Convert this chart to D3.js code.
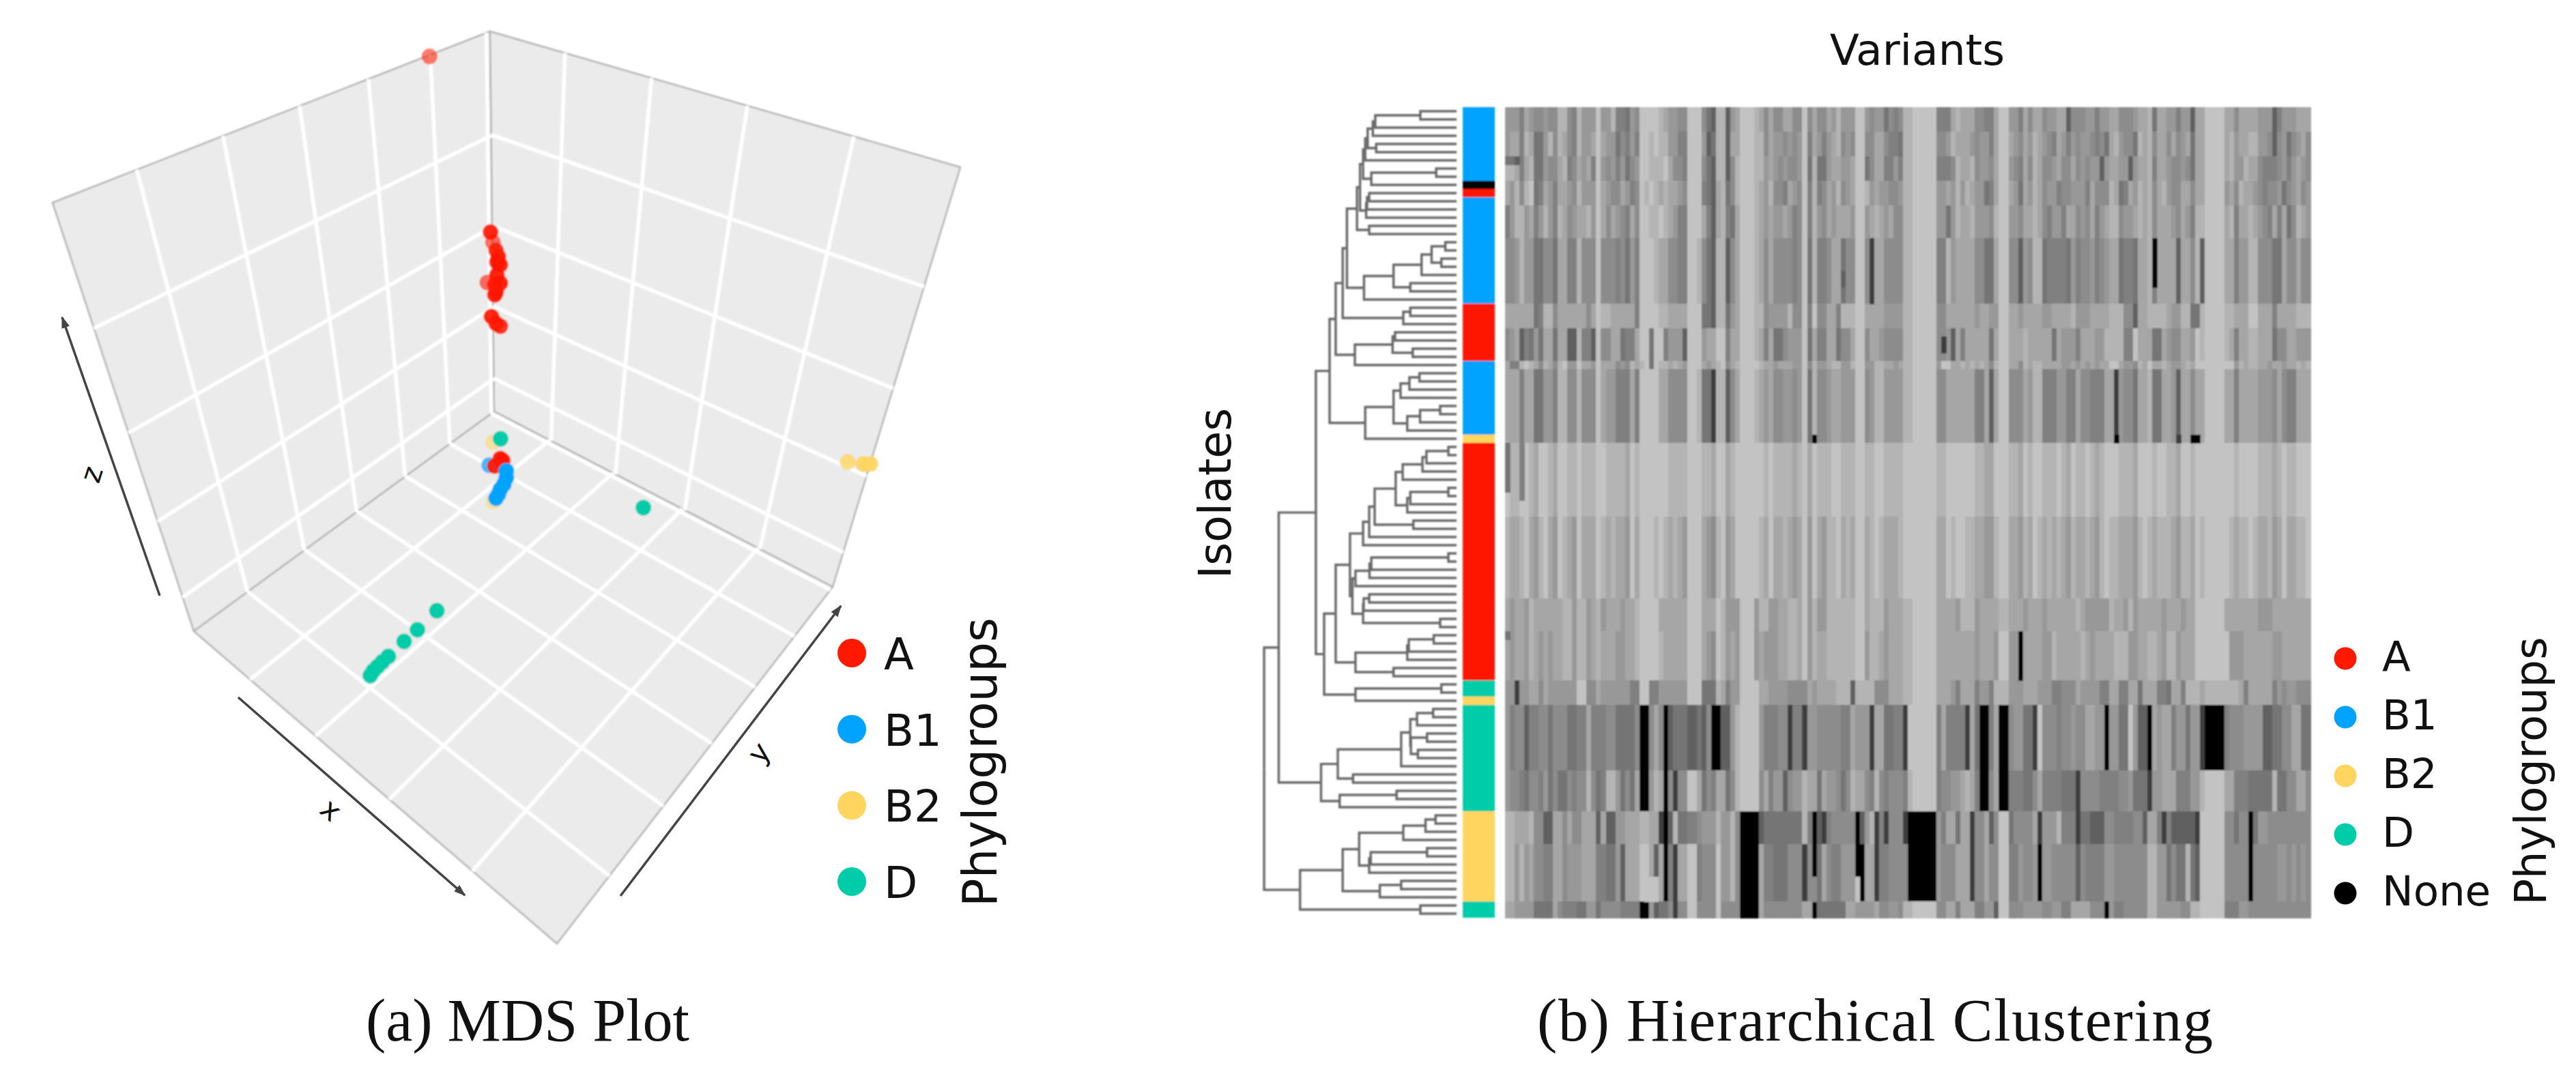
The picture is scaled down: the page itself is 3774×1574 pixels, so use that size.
<!DOCTYPE html>
<html>
<head>
<meta charset="utf-8">
<script src="https://cdn.jsdelivr.net/npm/d3@7"></script>
<style>
    body { margin: 0; background: #fff; }
    text { font-family: "DejaVu Sans", sans-serif; fill: #111; }
    .caption { font-family: "Liberation Serif", serif; font-size: 88px; }
</style>
</head>
<body>
<svg id="chart" width="3774" height="1574"></svg>
<script>
// ---- phylogroups ----
const groupNames = ['A', 'B1', 'B2', 'D', 'None'];
const groupColors = ['#ff1900', '#00a3ff', '#ffd45f', '#00ccaa', '#000000'];

// ---- (a) MDS plot (view plane 0-100) ----
const mdsGroup = ['B2', 'B2', 'A', 'A', 'A', 'A', 'A', 'A', 'A', 'A', 'A', 'A', 'A', 'A', 'A', 'A', 'A', 'A',
    'B1', 'A', 'A', 'A', 'B1', 'B1', 'B1', 'B1', 'B1', 'B1', 'D', 'D', 'B2', 'B2', 'B2',
    'D', 'D', 'D', 'D', 'D', 'D', 'D', 'D'];
const mdsX = [48.18, 48.2, 41.95, 47.91, 48.15, 48.45, 48.67, 48.87, 48.53, 48.53, 47.6, 48.87, 48.33, 48.45, 48.33, 48, 48.45, 48.87,
    47.78, 48.87, 48.33, 49.11, 49.45, 49.45, 49.2, 48.87, 48.67, 48.45, 48.89, 62.84, 82.8, 84.33, 85,
    42.67, 40.77, 39.47, 37.93, 37.33, 36.87, 36.47, 36.17];
const mdsY = [43.2, 49, 5.52, 22.67, 23.67, 24.47, 25.07, 25.87, 25.6, 26.87, 27.6, 27.67, 27.77, 28.53, 28.8, 30.93, 31.6, 31.87,
    45.45, 44.8, 45.53, 45, 46, 46.67, 47.33, 47.8, 48.33, 48.67, 42.87, 49.6, 45.13, 45.33, 45.33,
    59.67, 61.53, 62.67, 64.13, 64.67, 65.13, 65.53, 66];
const mdsDepth = [0.3, 0.3, 0.4, 0.9, 0.45, 0.8, 0.9, 0.9, 0.9, 0.9, 0.45, 0.9, 0.9, 0.9, 0.9, 0.9, 0.9, 0.8,
    0.6, 0.9, 0.9, 0.9, 1, 1, 1, 1, 1, 1, 1, 1, 0.7, 0.9, 0.9,
    1, 1, 1, 1, 1, 1, 1, 1];

const xTicks = [1, 2, 3, 4];
const yTicks = [1, 2, 3, 4, 5, 6];
const zTicks = [0, 1, 2, 3];

// ---- (b) heatmap, 99 isolates by 168 variants, grey level 0-9 by block of rows ----
const isolateCount = 99;
const variantCount = 168;
const blockFirstRow = [1, 4, 7, 10, 13, 17, 25, 28, 32, 33, 42, 51, 61, 65, 71, 74, 82, 87, 91, 98];
const blockLevels = [
    '6664765565 5885486669 6684436599 9987665599 9532882679 9987575577 5595755768 6669965663 5458899999 4447877755 4479966475 7756677255 5664667755 5677837766 4662779999 7757777666 24666777',
    '6774873368 5875486679 7663546499 8988664499 9623882779 9988576656 5694764678 5659955775 4438899999 5568777656 6479976576 8765476465 6654537865 5387857757 5673779999 7867788665 25635675',
    '8874783365 5784576749 6564635699 8889755499 9532882589 9988676565 5693833677 6679935774 4648899999 4445877856 6579965475 8755675575 6566267766 2677847765 5653779999 7866877544 45646765',
    '7685893476 4776586669 7655764598 9878776599 9432783589 9987685547 6594845768 5679986766 5568899999 6676868766 3479976376 8756645566 6475558734 7687857865 5775779999 6758776545 56356756',
    '4688674686 4875677869 7576547599 8898764499 9742784379 9987676676 4594865767 7769967876 7558899999 6636877866 6589966577 8754664775 6574678856 6787857776 5764889999 7847787654 74735876',
    '5568663355 3774485559 5554536499 9877554499 8532882579 9987575555 4593844577 3559954775 5558899999 4486777755 3379955265 8834444364 5564567734 4377847777 2775829999 7746688555 33755755',
    '7777773488 5777777579 8877777499 9988777799 9332883679 9988566668 5594955774 8889977776 6668899999 5577777767 7669977677 7766777786 6677778885 5277888876 6883389999 8877799777 47777888',
    '5672436377 3772284429 5577344799 3994666299 9677994779 9987473356 6693744773 5579957765 5558899999 5562747777 7379977787 7777376664 7776688884 4977733765 5776989999 8747788777 35577666',
    '7448987587 5896697769 7775658789 3988787699 9767895789 9998776777 6695866788 6689966887 7678899999 6997787878 7589977587 8877776676 7676779976 6587977876 6787999999 9968788776 77677878',
    '7774773366 4885585559 7664447499 9977555599 8331882579 9987675566 5693855677 6669956886 6668899999 5577777744 7279955576 8844466447 5544477165 5377833776 2775779999 7747777666 57544777',
    '9889987998 7998898889 9888879899 9999888899 9887997899 9999898888 7897988899 8889988998 8889999999 8899999988 7799988798 9988898798 8987899988 8799989988 7998999999 9989999888 78988999',
    '8778976897 6987697779 8787769799 9898787699 9765896799 9998797787 6796976889 7879978987 7789999999 7798998877 6689977687 9878787687 7876898877 7689878887 6887989999 9878898778 67977889',
    '7677687777 7788688678 6777677899 9977777799 9777986669 9968866778 8796866888 8889978886 7778899999 7777688867 7778877767 7767777778 7666668776 8677777677 7677999999 7777777666 77777777',
    '7677687676 7788688678 7776677899 9987777799 9765986769 9967666778 8796877888 8889968876 7778899999 7777777767 7769966677 7766877777 8767777888 6677887688 6777999999 9666777777 66777777',
    '6616677576 6666699557 6666664499 4466666699 9333874669 9997766665 5557677778 8828888555 7778899999 7776477746 6488866677 7666445557 6666447744 7737774437 7488878888 8887477777 46566555',
    '6455244553 5553344744 4553333500 5750233322 3250022689 9996444551 4416655555 4476661773 3441999999 4744441730 0470056633 1955545565 5776606633 9622076774 6636610000 4555666622 33557733',
    '6554355463 5335455853 4886353700 6870515599 7354773589 9995746625 6687737665 3587754854 5554899999 4556678740 0570044433 5744443331 5555444455 6333166777 4446689999 7744433333 83355775',
    '8877785522 7757557772 7226677788 7710283344 5666866850 0002333333 3384021455 5550268141 5551000000 6477377155 7259935555 7166684441 3322255444 4552774142 2222199999 5535503665 55555555',
    '8868675544 7756667774 4336277799 7270417799 4555966850 0007443335 5515037544 6660077144 5555000000 6555777155 7559944655 6066555552 5444466555 5555886635 3383299999 5555505555 56656565',
    '7766663333 7544433663 5555444400 6233515599 5555955550 0007555555 5577033333 3776666755 6658899999 5577477744 6629955566 6655664477 7755506445 5555886666 6558899999 4446655555 55555555'
];
// single dark or pale runs: first row, last row, first variant, last variant, level
const heatMarks = [
    [7, 7, 0, 1, 3], [7, 7, 2, 2, 2], [17, 24, 76, 76, 1], [21, 22, 70, 70, 2], [17, 22, 135, 135, 0],
    [29, 30, 91, 91, 1], [41, 41, 64, 64, 0], [41, 41, 127, 127, 0], [41, 41, 140, 140, 1], [41, 41, 143, 144, 0],
    [42, 47, 0, 0, 3], [42, 48, 3, 3, 4], [65, 70, 107, 107, 0], [65, 65, 0, 0, 3],
    [95, 97, 73, 73, 9], [95, 97, 64, 64, 5], [95, 97, 29, 31, 9]
];
const levelGrey = [0, 62, 96, 116, 128, 140, 152, 166, 180, 195];

// row annotation of the heatmap: group and number of isolates, top to bottom
const annotationGroups = ['B1', 'None', 'A', 'B1', 'A', 'B1', 'B2', 'A', 'D', 'B2', 'D', 'B2', 'D'];
const annotationCounts = [9, 1, 1, 13, 7, 9, 1, 29, 2, 1, 13, 11, 2];

// ---- dendrogram: [merge height, left, right], 0 is a leaf ----
const cladeTop = [327,
    [317,
        [307,
            [300, [292, [275, [267, [119, 0, 0], 0], 0], [264, 0, 0]], 0],
            [280, [67, 0, 0], 0]],
        [297, [294, [287, 0, 0], 0], 0]],
    [287, 0, 0]];
const cladeB1Lower = [304, [207, [115, [82, [37, 0, 0], [50, 0, 0]], 0], [152, 0, 0]], 0];
const cladeA1 = [175, [152, 0, 0], 0];
const cladeA2 = [334, [210, [202, 0, 0], [144, 0, 0]], 0];
const cladeB1Last = [300, [207, [184, [155, [122, 0, 0], 0], 0], [162, [120, [54, 0, 0], 0], 0]], 0];
const cladeUpper = [417, [397, [374, [360, cladeTop, cladeB1Lower], cladeA1], cladeA2], cladeB1Last];

const cladeA3 = [307, [287, [269, [200, [177, [112, [99, [27, 0, 0], 0], 0], 0], [162, [152, [27, 0, 0], 0], 0]], [142, 0, 0]], 0], 0];
const cladeA4 = [342, [332, [286, [280, [27, 0, 0], 0], 0], 0], [307, [305, [287, 0, 0], 0], [54, 0, 0]]];
const cladeA5 = [332, [162, [157, [75, 0, 0], 0], 0], [207, 0, 0]];
const cladeMixed = [332, [50, 0, 0], 0];
const cladeLight = [435, [397, [350, cladeA3, cladeA4], cladeA5], cladeMixed];
const cladeD = [445,
    [390, [182, [152, [130, [77, 0, 0], 0], [150, [97, 0, 0], [127, 0, 0]]], 0], [340, 0, 0]],
    [384, [197, 0, 0], 0]];
const cladeB2 = [514,
    [374, [320, [175, [102, [69, 0, 0], 0], 0], [287, [282, [97, 0, 0], 0], 0]], [252, [182, 0, 0], 0]],
    [119, 0, 0]];
const dendroRoot = [632, [584, [462, cladeUpper, cladeLight], cladeD], cladeB2];

// ---- captions and legends ----
const legendA = ['A', 'B1', 'B2', 'D'];
const legendB = ['A', 'B1', 'B2', 'D', 'None'];

const svg = d3.select('#chart');
const color = d3.scaleOrdinal().domain(groupNames).range(groupColors);

const defs = svg.append('defs');
defs.append('filter').attr('id', 'soft').append('feGaussianBlur').attr('stdDeviation', 1.3);
defs.append('filter').attr('id', 'softer').append('feGaussianBlur').attr('stdDeviation', 0.8);
defs.append('marker')
    .attr('id', 'arrow')
    .attr('viewBox', '0 0 10 10')
    .attr('refX', 9)
    .attr('refY', 5)
    .attr('markerWidth', 5)
    .attr('markerHeight', 5)
    .attr('orient', 'auto')
    .append('path')
    .attr('d', 'M0,1.5L10,5L0,8.5Z')
    .attr('fill', '#444');

// ==== (a) MDS plot ====
const boxTopBack = [718, 46];
const boxTopLeft = [77, 297];
const boxTopRight = [1407, 245];
const boxBottomLeft = [284, 925];
const boxBottomRight = [1220, 860];
const boxFront = [816, 1383];
const boxBack = [724, 603];

// unit square to quadrilateral, so gridlines keep the perspective of the box
function quadMap(p00, p10, p11, p01) {
    const dx1 = p10[0] - p11[0], dx2 = p01[0] - p11[0], sx = p00[0] - p10[0] + p11[0] - p01[0];
    const dy1 = p10[1] - p11[1], dy2 = p01[1] - p11[1], sy = p00[1] - p10[1] + p11[1] - p01[1];
    const det = dx1 * dy2 - dx2 * dy1;
    const g = (sx * dy2 - dx2 * sy) / det;
    const h = (dx1 * sy - sx * dy1) / det;
    const a = p10[0] - p00[0] + g * p10[0], b = p01[0] - p00[0] + h * p01[0];
    const d = p10[1] - p00[1] + g * p10[1], e = p01[1] - p00[1] + h * p01[1];
    return (u, v) => {
        const w = g * u + h * v + 1;
        return [(a * u + b * v + p00[0]) / w, (d * u + e * v + p00[1]) / w];
    };
}

const xFrac = d3.scaleLinear().domain([0.05, 4.9]).range([0, 1]);
const yFrac = d3.scaleLinear().domain([0.13, 6.07]).range([0, 1]);
const zFrac = d3.scaleLinear().domain([-0.5, 4]).range([0, 1]);

const floor = quadMap(boxBottomLeft, boxFront, boxBottomRight, boxBack);
const leftWall = quadMap(boxBottomLeft, boxBack, boxTopBack, boxTopLeft);
const rightWall = quadMap(boxBack, boxBottomRight, boxTopRight, boxTopBack);

const walls = [
    [boxBottomLeft, boxBack, boxTopBack, boxTopLeft],
    [boxBack, boxBottomRight, boxTopRight, boxTopBack],
    [boxBottomLeft, boxFront, boxBottomRight, boxBack]
];

const gridLines = [];
xTicks.forEach(t => {
    gridLines.push([floor(xFrac(t), 0), floor(xFrac(t), 1)]);
    gridLines.push([rightWall(xFrac(t), 0), rightWall(xFrac(t), 1)]);
});
yTicks.forEach(t => {
    gridLines.push([floor(0, yFrac(t)), floor(1, yFrac(t))]);
    gridLines.push([leftWall(yFrac(t), 0), leftWall(yFrac(t), 1)]);
});
zTicks.forEach(t => {
    gridLines.push([leftWall(0, zFrac(t)), leftWall(1, zFrac(t))]);
    gridLines.push([rightWall(0, zFrac(t)), rightWall(1, zFrac(t))]);
});

const plotA = svg.append('g').attr('filter', 'url(#softer)');

plotA.selectAll('.wall')
    .data(walls)
    .enter().append('polygon')
    .attr('class', 'wall')
    .attr('points', d => d.join(' '))
    .attr('fill', '#ebebeb')
    .attr('stroke', '#b4b4b4')
    .attr('stroke-width', 2.5)
    .attr('stroke-linejoin', 'round');

plotA.selectAll('.grid')
    .data(gridLines)
    .enter().append('line')
    .attr('class', 'grid')
    .attr('x1', d => d[0][0])
    .attr('y1', d => d[0][1])
    .attr('x2', d => d[1][0])
    .attr('y2', d => d[1][1])
    .attr('stroke', '#fff')
    .attr('stroke-width', 5.5);

const viewX = d3.scaleLinear().domain([0, 100]).range([0, 1500]);
const viewY = d3.scaleLinear().domain([0, 100]).range([0, 1500]);
const depthOpacity = d3.scaleLinear().domain([0, 1]).range([0.3, 1]);

plotA.selectAll('.point')
    .data(mdsX.map((x, i) => ({ x, y: mdsY[i], group: mdsGroup[i], depth: mdsDepth[i] })))
    .enter().append('circle')
    .attr('class', 'point')
    .attr('cx', d => viewX(d.x))
    .attr('cy', d => viewY(d.y))
    .attr('r', 11.5)
    .attr('fill', d => color(d.group))
    .attr('fill-opacity', d => depthOpacity(d.depth));

// axis arrows
const arrows = [
    { from: [349, 1022], to: [681, 1312], name: 'x', at: [485, 1187], angle: 40 },
    { from: [909, 1313], to: [1232, 888], name: 'y', at: [1112, 1103], angle: -52 },
    { from: [234, 873], to: [91, 465], name: 'z', at: [134, 695], angle: -72 }
];

svg.selectAll('.arrow')
    .data(arrows)
    .enter().append('line')
    .attr('class', 'arrow')
    .attr('x1', d => d.from[0])
    .attr('y1', d => d.from[1])
    .attr('x2', d => d.to[0])
    .attr('y2', d => d.to[1])
    .attr('stroke', '#444')
    .attr('stroke-width', 3.5)
    .attr('marker-end', 'url(#arrow)');

svg.selectAll('.axisName')
    .data(arrows)
    .enter().append('text')
    .attr('class', 'axisName')
    .attr('text-anchor', 'middle')
    .attr('dominant-baseline', 'central')
    .attr('font-size', 42)
    .attr('transform', d => `translate(${d.at[0]},${d.at[1]}) rotate(${d.angle})`)
    .text(d => d.name);

const legendAY = d3.scalePoint().domain(legendA).range([957, 1292]);

svg.selectAll('.legendDotA')
    .data(legendA)
    .enter().append('circle')
    .attr('class', 'legendDotA')
    .attr('cx', 1248)
    .attr('cy', d => legendAY(d))
    .attr('r', 21)
    .attr('fill', d => color(d));

svg.selectAll('.legendTextA')
    .data(legendA)
    .enter().append('text')
    .attr('class', 'legendTextA')
    .attr('x', 1295)
    .attr('y', d => legendAY(d) + 24)
    .attr('font-size', 64)
    .text(d => d);

svg.append('text')
    .attr('transform', 'translate(1460,1117) rotate(-90)')
    .attr('text-anchor', 'middle')
    .attr('font-size', 69)
    .text('Phylogroups');

svg.append('text')
    .attr('class', 'caption')
    .attr('x', 773)
    .attr('y', 1525)
    .attr('text-anchor', 'middle')
    .attr('textLength', 474)
    .text('(a) MDS Plot');

// ==== (b) hierarchical clustering ====
const rowBand = d3.scaleBand().domain(d3.range(1, isolateCount + 1)).range([157, 1345]);
const colBand = d3.scaleBand().domain(d3.range(variantCount)).range([2205, 3385]);
const greyScale = d3.scaleLinear().domain(d3.range(levelGrey.length)).range(levelGrey);
const greyOf = level => { const g = Math.round(greyScale(level)); return `rgb(${g},${g},${g})`; };

const heatCells = [];
blockLevels.forEach((levels, b) => {
    const first = blockFirstRow[b];
    const last = b + 1 < blockFirstRow.length ? blockFirstRow[b + 1] - 1 : isolateCount;
    levels.replace(/ /g, '').split('').forEach((c, col) => {
        heatCells.push({ first, last, colFirst: col, colLast: col, level: +c });
    });
});
heatMarks.forEach(m => {
    heatCells.push({ first: m[0], last: m[1], colFirst: m[2], colLast: m[3], level: m[4] });
});

const heat = svg.append('g').attr('filter', 'url(#soft)');

heat.selectAll('.cell')
    .data(heatCells)
    .enter().append('rect')
    .attr('class', 'cell')
    .attr('x', d => colBand(d.colFirst))
    .attr('y', d => rowBand(d.first))
    .attr('width', d => colBand.step() * (d.colLast - d.colFirst + 1) + 0.5)
    .attr('height', d => rowBand.step() * (d.last - d.first + 1) + 0.5)
    .attr('fill', d => greyOf(d.level))
    .attr('shape-rendering', 'crispEdges');

// annotation bar
let annotationStart = 1;
const annotationRows = annotationGroups.map((group, i) => {
    const d = { group, first: annotationStart, count: annotationCounts[i] };
    annotationStart += annotationCounts[i];
    return d;
});

svg.append('g').attr('filter', 'url(#softer)').selectAll('.annotation')
    .data(annotationRows)
    .enter().append('rect')
    .attr('class', 'annotation')
    .attr('x', 2143)
    .attr('width', 47)
    .attr('y', d => rowBand(d.first))
    .attr('height', d => rowBand.step() * d.count)
    .attr('fill', d => color(d.group));

// dendrogram
const tree = d3.hierarchy(dendroRoot, d => Array.isArray(d) ? d.slice(1) : null);
const heightX = d3.scaleLinear().domain([0, 632]).range([2134, 1852]);
let leafRow = 1;
tree.eachAfter(node => {
    if (node.children) {
        node.rowY = (node.children[0].rowY + node.children[1].rowY) / 2;
        node.mergeX = heightX(node.data[0]);
    } else {
        node.rowY = rowBand(leafRow) + rowBand.bandwidth() / 2;
        node.mergeX = heightX(0);
        leafRow += 1;
    }
});

const branchPath = d => `M${d.target.mergeX},${d.target.rowY}H${d.source.mergeX}V${d.source.rowY}`;

svg.append('g').attr('filter', 'url(#softer)').selectAll('.branch')
    .data(tree.links())
    .enter().append('path')
    .attr('class', 'branch')
    .attr('d', branchPath)
    .attr('fill', 'none')
    .attr('stroke', '#666')
    .attr('stroke-width', 3.4);

svg.append('text')
    .attr('x', 2809)
    .attr('y', 95)
    .attr('text-anchor', 'middle')
    .attr('font-size', 63)
    .text('Variants');

svg.append('text')
    .attr('transform', 'translate(1803,723) rotate(-90)')
    .attr('text-anchor', 'middle')
    .attr('font-size', 65)
    .text('Isolates');

const legendBY = d3.scalePoint().domain(legendB).range([965, 1309]);

svg.selectAll('.legendDotB')
    .data(legendB)
    .enter().append('circle')
    .attr('class', 'legendDotB')
    .attr('cx', 3436)
    .attr('cy', d => legendBY(d))
    .attr('r', 16.5)
    .attr('fill', d => color(d));

svg.selectAll('.legendTextB')
    .data(legendB)
    .enter().append('text')
    .attr('class', 'legendTextB')
    .attr('x', 3490)
    .attr('y', d => legendBY(d) + 18)
    .attr('font-size', 61)
    .text(d => d);

svg.append('text')
    .attr('transform', 'translate(3730,1130) rotate(-90)')
    .attr('text-anchor', 'middle')
    .attr('font-size', 64)
    .text('Phylogroups');

svg.append('text')
    .attr('class', 'caption')
    .attr('x', 2747)
    .attr('y', 1525)
    .attr('text-anchor', 'middle')
    .attr('textLength', 990)
    .text('(b) Hierarchical Clustering');
</script>
</body>
</html>
